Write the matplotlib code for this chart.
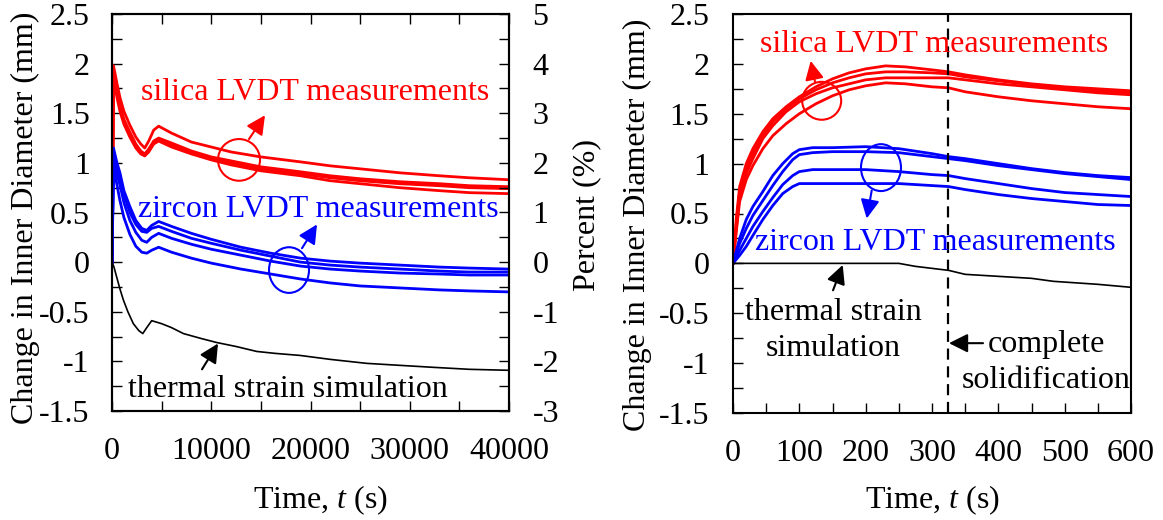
import matplotlib
matplotlib.use("Agg")
import matplotlib.pyplot as plt
from matplotlib.patches import Ellipse
from matplotlib.ticker import MultipleLocator, FuncFormatter

plt.rcParams['font.family'] = ['Liberation Serif', 'DejaVu Serif']
plt.rcParams['mathtext.fontset'] = 'custom'
plt.rcParams['mathtext.rm'] = 'Liberation Serif'
plt.rcParams['mathtext.it'] = 'Liberation Serif:italic'
plt.rcParams['axes.unicode_minus'] = False

# ---------------- Left panel data (long time) ----------------
t_long_red = [0, 150, 500, 800, 1200, 1800, 2400, 2900, 3300, 3700, 4200, 4700, 6000, 8000, 10000,
              12000, 15000, 19000, 22000, 25000, 29000, 33000, 36000, 40000]
silica_long_1 = [0, 1.98, 1.80, 1.66, 1.52, 1.38, 1.26, 1.19, 1.15, 1.22, 1.33, 1.37, 1.30, 1.21, 1.16,
                 1.11, 1.06, 1.01, 0.97, 0.94, 0.90, 0.87, 0.85, 0.83]
silica_long_2 = [0, 1.92, 1.72, 1.58, 1.44, 1.31, 1.19, 1.12, 1.09, 1.14, 1.22, 1.25, 1.20, 1.12, 1.06,
                 1.02, 0.96, 0.91, 0.87, 0.84, 0.81, 0.79, 0.77, 0.76]
silica_long_3 = [0, 1.88, 1.70, 1.55, 1.42, 1.29, 1.17, 1.10, 1.08, 1.12, 1.20, 1.23, 1.18, 1.10, 1.05,
                 1.00, 0.94, 0.89, 0.85, 0.82, 0.79, 0.77, 0.75, 0.74]
silica_long_4 = [0, 1.85, 1.66, 1.52, 1.39, 1.26, 1.15, 1.09, 1.07, 1.11, 1.19, 1.22, 1.16, 1.09, 1.03,
                 0.98, 0.92, 0.87, 0.82, 0.79, 0.75, 0.72, 0.70, 0.69]

t_long_blue = [0, 150, 500, 800, 1200, 1800, 2400, 3000, 3500, 4000, 4700, 6000, 8000, 10000,
               13000, 16000, 19000, 22000, 25000, 29000, 33000, 36000, 40000]
zircon_long_1 = [0, 1.15, 1.00, 0.90, 0.72, 0.56, 0.42, 0.34, 0.32, 0.37, 0.41, 0.36, 0.29, 0.23,
                 0.15, 0.09, 0.04, 0.01, -0.01, -0.03, -0.05, -0.06, -0.07]
zircon_long_2 = [0, 1.10, 0.95, 0.85, 0.68, 0.50, 0.38, 0.31, 0.30, 0.34, 0.36, 0.31, 0.24, 0.19,
                 0.12, 0.06, 0.00, -0.03, -0.05, -0.07, -0.09, -0.10, -0.10]
zircon_long_3 = [0, 1.05, 0.88, 0.78, 0.60, 0.42, 0.30, 0.22, 0.20, 0.25, 0.29, 0.24, 0.18, 0.13,
                 0.07, 0.01, -0.04, -0.07, -0.09, -0.11, -0.12, -0.13, -0.13]
zircon_long_4 = [0, 0.95, 0.78, 0.62, 0.45, 0.28, 0.16, 0.10, 0.09, 0.12, 0.15, 0.10, 0.04, -0.01,
                 -0.07, -0.12, -0.17, -0.21, -0.24, -0.26, -0.28, -0.29, -0.30]

t_long_sim = [0, 200, 470, 800, 1140, 1600, 2150, 2700, 3100, 3500, 4000, 5000, 6000, 7200, 9000,
              10550, 12500, 14580, 16500, 18940, 22000, 25660, 29000, 32370, 36000, 40000]
thermal_long = [0, -0.05, -0.15, -0.27, -0.38, -0.50, -0.62, -0.69, -0.72, -0.66, -0.59, -0.62, -0.66,
                -0.72, -0.77, -0.81, -0.85, -0.90, -0.92, -0.94, -0.98, -1.02, -1.04, -1.06, -1.08, -1.09]

# ---------------- Right panel data (short time) ----------------
t_short = [0, 5, 10, 20, 30, 45, 60, 80, 100, 125, 150, 175, 200, 230, 260, 300, 325, 350, 400,
           450, 500, 550, 600]
silica_short_1 = [0, 0.45, 0.77, 1.00, 1.15, 1.32, 1.45, 1.57, 1.67, 1.77, 1.85, 1.91, 1.95, 1.98,
                  1.97, 1.94, 1.92, 1.89, 1.84, 1.80, 1.77, 1.75, 1.73]
silica_short_2 = [0, 0.40, 0.72, 0.95, 1.10, 1.28, 1.42, 1.55, 1.65, 1.74, 1.81, 1.86, 1.90, 1.92,
                  1.92, 1.91, 1.90, 1.87, 1.83, 1.79, 1.76, 1.73, 1.71]
silica_short_3 = [0, 0.35, 0.67, 0.90, 1.05, 1.25, 1.38, 1.52, 1.62, 1.70, 1.76, 1.80, 1.84, 1.86,
                  1.86, 1.86, 1.86, 1.84, 1.80, 1.77, 1.74, 1.71, 1.69]
silica_short_4 = [0, 0.32, 0.62, 0.84, 0.98, 1.15, 1.28, 1.40, 1.50, 1.60, 1.68, 1.74, 1.78, 1.81,
                  1.80, 1.77, 1.76, 1.72, 1.67, 1.63, 1.60, 1.57, 1.55]

t_short_b = [0, 10, 20, 30, 45, 60, 75, 90, 100, 120, 150, 200, 250, 300, 325, 350, 400, 450, 500,
             550, 600]
zircon_short_1 = [0, 0.25, 0.44, 0.57, 0.72, 0.88, 1.00, 1.10, 1.14, 1.16, 1.16, 1.17, 1.15, 1.10,
                  1.07, 1.05, 1.00, 0.95, 0.91, 0.88, 0.86]
zircon_short_2 = [0, 0.20, 0.35, 0.48, 0.63, 0.78, 0.92, 1.04, 1.09, 1.11, 1.12, 1.12, 1.11, 1.07,
                  1.05, 1.03, 0.98, 0.94, 0.90, 0.87, 0.84]
zircon_short_3 = [0, 0.13, 0.25, 0.37, 0.52, 0.66, 0.79, 0.88, 0.92, 0.94, 0.94, 0.94, 0.92, 0.89,
                  0.88, 0.85, 0.80, 0.75, 0.71, 0.69, 0.67]
zircon_short_4 = [0, 0.08, 0.17, 0.28, 0.44, 0.58, 0.70, 0.77, 0.80, 0.80, 0.80, 0.80, 0.80, 0.78,
                  0.77, 0.74, 0.69, 0.65, 0.62, 0.59, 0.58]

t_short_sim = [0, 250, 275, 300, 325, 350, 400, 450, 483, 550, 600]
thermal_short = [0, 0, -0.03, -0.05, -0.07, -0.11, -0.13, -0.15, -0.18, -0.21, -0.24]

solidification_time = 324

RED = '#ff0000'
BLUE = '#0000ff'
FS = 23
ARROW = '-|>,head_length=0.6,head_width=0.3'
MS = 19

fig = plt.figure(figsize=(11.63, 5.2), dpi=100)
axL = fig.add_axes([112/1163, (520-411)/520, 397/1163, 397/520])
axR = fig.add_axes([733/1163, (520-413)/520, 398/1163, 399/520])

fmt = FuncFormatter(lambda v, p: '%g' % v)

def arrow(ax, xy, xytext, color):
    ax.annotate('', xy=xy, xytext=xytext,
                arrowprops=dict(arrowstyle=ARROW, color=color, lw=1.5, mutation_scale=MS,
                                shrinkA=0, shrinkB=0))

# ---- left panel ----
for y in [silica_long_1, silica_long_2, silica_long_3, silica_long_4]:
    axL.plot(t_long_red, y, color=RED, lw=2.0)
for y in [zircon_long_1, zircon_long_2, zircon_long_3, zircon_long_4]:
    axL.plot(t_long_blue, y, color=BLUE, lw=2.0)
axL.plot(t_long_sim, thermal_long, color='black', lw=1.2)
axL.set_xlim(0, 40000)
axL.set_ylim(-1.5, 2.5)
axL.xaxis.set_major_locator(MultipleLocator(10000))
axL.xaxis.set_minor_locator(MultipleLocator(5000))
axL.yaxis.set_major_locator(MultipleLocator(0.5))
axL.yaxis.set_minor_locator(MultipleLocator(0.25))
axL.yaxis.set_major_formatter(fmt)
axL.tick_params(which='both', direction='in', length=7, width=1, top=True, right=False,
                labelsize=FS)
axL.tick_params(axis='x', pad=19)
axL.tick_params(axis='y', pad=16)

axP = axL.twinx()
axP.set_ylim(-3, 5)
axP.yaxis.set_major_locator(MultipleLocator(1))
axP.yaxis.set_minor_locator(MultipleLocator(0.5))
axP.yaxis.set_major_formatter(fmt)
axP.tick_params(which='both', direction='in', length=7, width=1, labelsize=FS, pad=17)

for a in (axL, axP):
    for s in a.spines.values():
        s.set_linewidth(1.5)

axL.add_patch(Ellipse((12796, 1.03), 4232, 0.42, fill=False, ec=RED, lw=1.5))
arrow(axL, (15416, 1.48), (13804, 1.24), RED)
axL.add_patch(Ellipse((17834, -0.08), 4030, 0.46, fill=False, ec=BLUE, lw=1.5))
arrow(axL, (20655, 0.38), (19144, 0.14), BLUE)
arrow(axL, (10680, -0.82), (9068, -1.08), 'black')
axL.text(20450, 1.63, 'silica LVDT measurements', color=RED, fontsize=FS, ha='center', va='baseline')
axL.text(20806, 0.45, 'zircon LVDT measurements', color=BLUE, fontsize=FS, ha='center', va='baseline')
axL.text(17733, -1.36, 'thermal strain simulation', color='black', fontsize=FS, ha='center', va='baseline')

# ---- right panel ----
for y in [silica_short_1, silica_short_2, silica_short_3, silica_short_4]:
    axR.plot(t_short, y, color=RED, lw=2.0)
for y in [zircon_short_1, zircon_short_2, zircon_short_3, zircon_short_4]:
    axR.plot(t_short_b, y, color=BLUE, lw=2.0)
axR.plot(t_short_sim, thermal_short, color='black', lw=1.2)
axR.axvline(solidification_time, color='black', lw=1.6, ls=(0, (5, 3)))
axR.set_xlim(0, 600)
axR.set_ylim(-1.5, 2.5)
axR.xaxis.set_major_locator(MultipleLocator(100))
axR.xaxis.set_minor_locator(MultipleLocator(50))
axR.yaxis.set_major_locator(MultipleLocator(0.5))
axR.yaxis.set_minor_locator(MultipleLocator(0.25))
axR.yaxis.set_major_formatter(fmt)
axR.tick_params(which='both', direction='in', length=7, width=1, top=False, right=False,
                labelsize=FS)
axR.tick_params(axis='x', pad=19)
axR.tick_params(axis='y', pad=17)
for s in axR.spines.values():
    s.set_linewidth(1.5)

axR.add_patch(Ellipse((133.7, 1.63), 58.8, 0.38, fill=False, ec=RED, lw=1.5))
arrow(axR, (117.1, 2.03), (123.6, 1.82), RED)
axR.add_patch(Ellipse((223.1, 0.96), 60.3, 0.47, fill=False, ec=BLUE, lw=1.5))
arrow(axR, (201.6, 0.45), (209.1, 0.73), BLUE)
arrow(axR, (165.4, -0.016), (150.8, -0.27), 'black')
arrow(axR, (325.6, -0.80), (376.9, -0.80), 'black')
axR.text(303.8, 2.12, 'silica LVDT measurements', color=RED, fontsize=FS, ha='center', va='baseline')
axR.text(304.5, 0.134, 'zircon LVDT measurements', color=BLUE, fontsize=FS, ha='center', va='baseline')
axR.text(150.8, -0.57, 'thermal strain', fontsize=FS, ha='center', va='baseline')
axR.text(150.8, -0.93, 'simulation', fontsize=FS, ha='center', va='baseline')
axR.text(471.9, -0.89, 'complete', fontsize=FS, ha='center', va='baseline')
axR.text(471.9, -1.25, 'solidification', fontsize=FS, ha='center', va='baseline')

# ---- axis labels ----
fig.text(25/1163, 1 - 218/520, 'Change in Inner Diameter (mm)', rotation=90, fontsize=FS,
         ha='center', va='center')
fig.text(587/1163, 1 - 215/520, 'Percent (%)', rotation=90, fontsize=FS, ha='center', va='center')
fig.text(637/1163, 1 - 225/520, 'Change in Inner Diameter (mm)', rotation=90, fontsize=FS,
         ha='center', va='center')
fig.text(320/1163, 1 - 500/520, 'Time, $t$ (s)', fontsize=FS, ha='center', va='center')
fig.text(932/1163, 1 - 500/520, 'Time, $t$ (s)', fontsize=FS, ha='center', va='center')

fig.savefig('out.png', dpi=100)
